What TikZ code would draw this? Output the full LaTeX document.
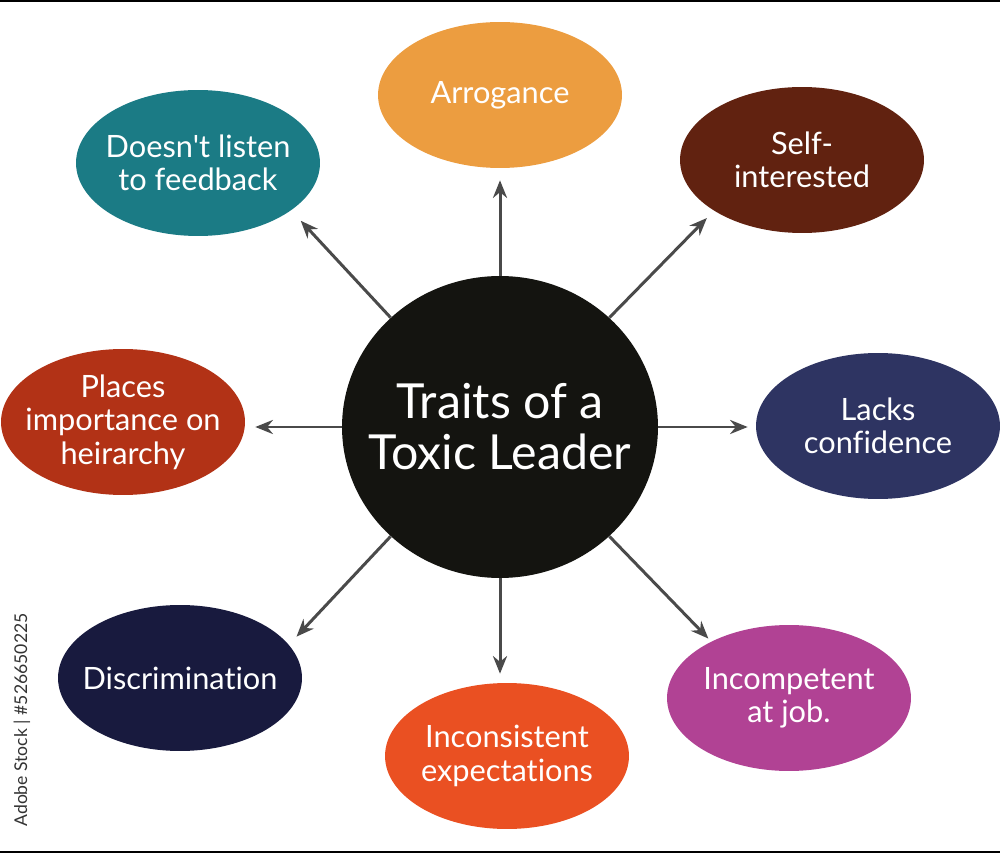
\documentclass[tikz,border=0pt]{standalone}
\usepackage{xcolor}
\usepackage{fontspec}
\setmainfont{Lato}[Ligatures={TeX,NoCommon}]
\usepackage{tikz}
\usetikzlibrary{shapes,arrows,arrows.meta,positioning,calc,shapes.geometric}
\definecolor{leaderblack}{RGB}{20, 20, 16}
\definecolor{arrowgray}{RGB}{74, 74, 74}
\definecolor{arrogorange}{RGB}{236, 157, 64}
\definecolor{selfbrown}{RGB}{97, 34, 16}
\definecolor{lacksnavy}{RGB}{46, 52, 98}
\definecolor{incompmagenta}{RGB}{177, 66, 148}
\definecolor{inconsred}{RGB}{234, 80, 34}
\definecolor{discrimnavy}{RGB}{24, 26, 62}
\definecolor{placesred}{RGB}{178, 50, 22}
\definecolor{listenteal}{RGB}{27, 123, 133}

\begin{document}
\begin{tikzpicture}[
        x=0.02cm, y=-0.02cm,
        leader/.style={fill=leaderblack, ellipse, minimum width=6.32cm, minimum height=6.04cm, inner sep=-2cm, align=center, text=white, font=\fontsize{27.5}{29}\selectfont},
        trait/.style={ellipse, minimum width=4.88cm, minimum height=2.92cm, inner sep=-2cm, align=center, text=white, font=\fontsize{17.5}{19}\selectfont},
        arrow/.style={line width=1.7pt, ->, >={Stealth[length=10pt,width=8pt]}, color=arrowgray}
    ]
        \useasboundingbox (0,0) rectangle (1000,854);

        % Frame rules
        \draw[line width=1pt] (0,1) -- (1000,1);
        \draw[line width=1.2pt] (0,852) -- (1000,852);

        % Central Node
        \node[leader] (leader) at (500, 427) {Traits of a\\Toxic Leader};

        % Traits
        \node[trait, fill=arrogorange] (arrog) at (500, 95) {Arrogance};
        \node[trait, fill=selfbrown] (self) at (802, 160) {Self-\\interested};
        \node[trait, fill=lacksnavy] (lacks) at (878, 426) {Lacks\\confidence};
        \node[trait, fill=incompmagenta] (incomp) at (789, 698) {Incompetent\\at job.};
        \node[trait, fill=inconsred] (incons) at (507, 756) {Inconsistent\\expectations};
        \node[trait, fill=discrimnavy] (discrim) at (180, 678) {Discrimination};
        \node[trait, fill=placesred] (places) at (123, 422) {Places\\importance on\\heirarchy};
        \node[trait, fill=listenteal] (listen) at (198, 163) {Doesn\textquotesingle t listen\\to feedback};

        % Arrows
        \draw[arrow, shorten >=0.24cm] (leader.north) -- (leader.north |- arrog.south);
        \draw[arrow, shorten >=0.2cm] (leader.45) -- (self.210);
        \draw[arrow, shorten >=0.16cm] (leader.east) -- (leader.east -| lacks.west);
        \draw[arrow, shorten >=0.08cm] (leader.-45) -- (incomp.144);
        \draw[arrow, shorten >=0.18cm] (leader.south) -- (leader.south |- incons.north);
        \draw[arrow, shorten >=0.22cm] (leader.-135) -- (discrim.17);
        \draw[arrow, shorten >=0.2cm] (leader.west) -- (leader.west -| places.east);
        \draw[arrow, shorten >=0.28cm] (leader.135) -- (listen.-27);

        % Stock label
        \node[rotate=90, text=black!80, font=\fontsize{10}{12}\selectfont] (stock) at (22, 720) {Adobe Stock | \#526650225};
    \end{tikzpicture}
\end{document}
